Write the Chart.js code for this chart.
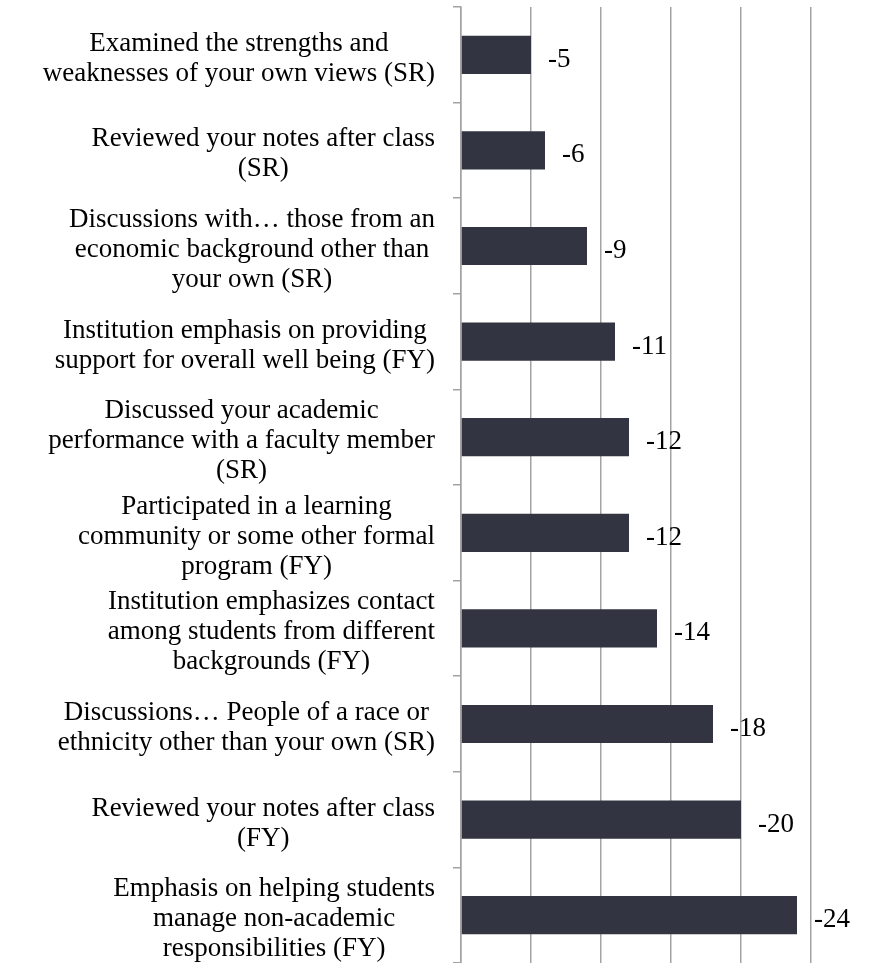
<!DOCTYPE html>
<html>
<head>
<meta charset="utf-8">
<script src="https://cdn.jsdelivr.net/npm/chart.js@4.4.0/dist/chart.umd.min.js"></script>
<style>
  html, body { margin: 0; padding: 0; background: #fff; }
</style>
</head>
<body>
<canvas id="graficoDeBarras" width="871" height="963"></canvas>
<script>
// one entry per bar, top to bottom, already broken into lines
const categorias = [
    ['Examined the strengths and', 'weaknesses of your own views (SR)'],
    ['Reviewed your notes after class', '(SR)'],
    ['Discussions with… those from an', 'economic background other than', 'your own (SR)'],
    ['Institution emphasis on providing', 'support for overall well being (FY)'],
    ['Discussed your academic', 'performance with a faculty member', '(SR)'],
    ['Participated in a learning', 'community or some other formal', 'program (FY)'],
    ['Institution emphasizes contact', 'among students from different', 'backgrounds (FY)'],
    ['Discussions… People of a race or', 'ethnicity other than your own (SR)'],
    ['Reviewed your notes after class', '(FY)'],
    ['Emphasis on helping students', 'manage non-academic', 'responsibilities (FY)']
];
const valores = [-5, -6, -9, -11, -12, -12, -14, -18, -20, -24];
const eixoMin = -25;
const eixoMax = 0;
const passo = 5;

const fonte = '"Liberation Serif", Georgia, serif';
const cinza = '#a3a3a3';

// category names: block right-aligned to the axis, lines centred inside the block
const rotulosCategorias = {
    id: 'rotulosCategorias',
    afterDraw(chart) {
        const ctx = chart.ctx;
        const eixoY = chart.scales.y;
        const altLinha = 30;
        ctx.save();
        ctx.font = '27px ' + fonte;
        ctx.fillStyle = '#000';
        ctx.textAlign = 'center';
        ctx.textBaseline = 'middle';
        categorias.forEach((linhas, i) => {
            const largura = Math.max(...linhas.map(l => ctx.measureText(l).width));
            const cx = eixoY.right - 26 - largura / 2;
            const cy = eixoY.getPixelForTick(i) + 4 - (linhas.length - 1) * altLinha / 2;
            linhas.forEach((l, k) => ctx.fillText(l, cx, cy + k * altLinha));
        });
        ctx.restore();
    }
};

// value printed just past the end of each bar
const rotulosValores = {
    id: 'rotulosValores',
    afterDatasetsDraw(chart) {
        const ctx = chart.ctx;
        const meta = chart.getDatasetMeta(0);
        ctx.save();
        ctx.font = '27px ' + fonte;
        ctx.fillStyle = '#000';
        ctx.textAlign = 'left';
        ctx.textBaseline = 'middle';
        meta.data.forEach((barra, i) => {
            ctx.fillText(String(valores[i]), barra.x + 17, barra.y + 5);
        });
        ctx.restore();
    }
};

const config = {
    type: 'bar',
    data: {
        labels: categorias,
        datasets: [{
            data: valores,
            backgroundColor: '#323441',
            borderWidth: 0,
            barPercentage: 0.4,
            categoryPercentage: 1
        }]
    },
    options: {
        indexAxis: 'y',
        responsive: false,
        animation: false,
        layout: { padding: { top: 7, right: 60, bottom: 0, left: 0 } },
        plugins: {
            legend: { display: false },
            tooltip: { enabled: false }
        },
        scales: {
            x: {
                reverse: true,
                min: eixoMin,
                max: eixoMax,
                ticks: { display: false, stepSize: passo },
                grid: { color: cinza, lineWidth: 1.5, drawTicks: false },
                border: { display: false }
            },
            y: {
                ticks: { display: false },
                grid: { drawOnChartArea: false, tickLength: 8, color: cinza, lineWidth: 1.5 },
                border: { color: cinza, width: 1.5 },
                afterFit(escala) { escala.width = 461; }
            }
        }
    },
    plugins: [rotulosCategorias, rotulosValores]
};

const grafico = new Chart(document.getElementById('graficoDeBarras'), config);
</script>
</body>
</html>
